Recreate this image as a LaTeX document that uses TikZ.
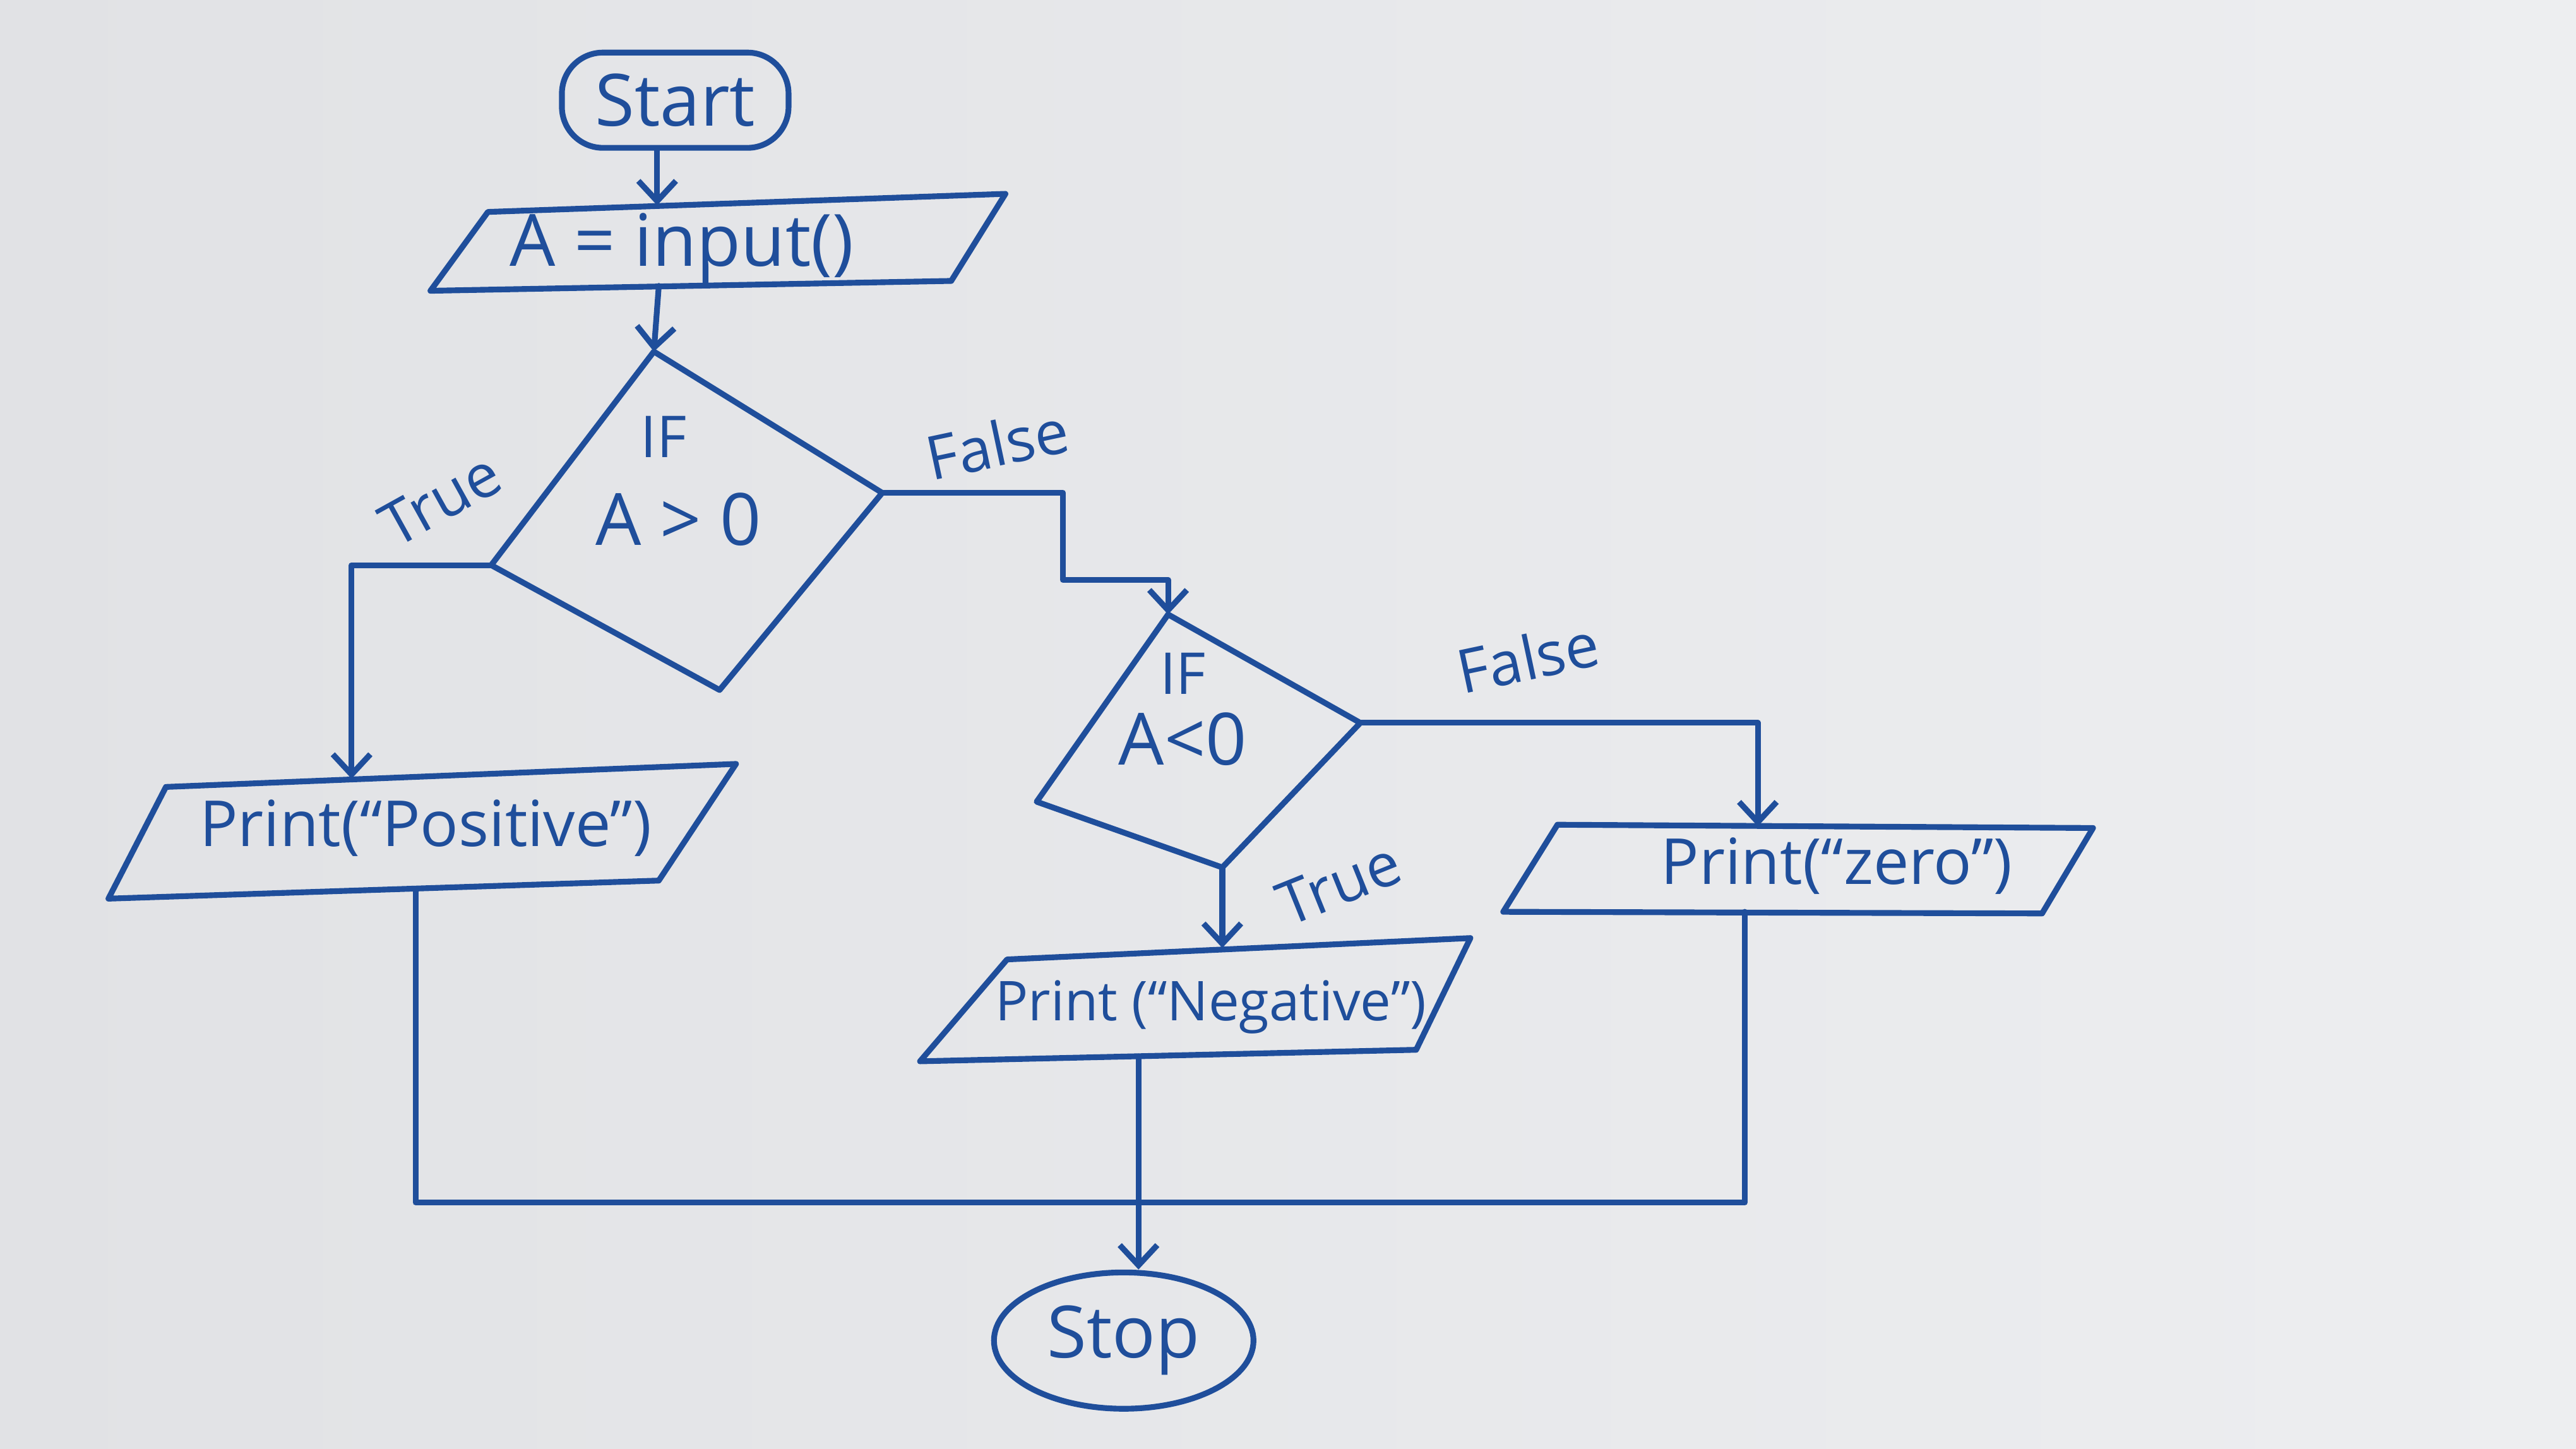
\documentclass[tikz,border=0pt]{standalone}
\usepackage{fontspec}
\setmainfont{Open Sans}
\usetikzlibrary{arrows.meta,shapes.geometric}
\definecolor{ink}{HTML}{1F4E9B}
\definecolor{paperL}{HTML}{E1E2E5}
\definecolor{paperR}{HTML}{EDEEF0}
\begin{document}
\begin{tikzpicture}[x=0.02cm,y=-0.02cm,
  pen/.style={draw=ink,line width=2pt,line join=round,line cap=round},
  flow/.style={pen,-{Straight Barb[length=7pt,width=13pt]}},
  txt/.style={text=ink,inner sep=0pt},
  big/.style={txt,font=\fontsize{25}{28}\selectfont},
  mid/.style={txt,font=\fontsize{22}{26}\selectfont},
  lbl/.style={txt,font=\fontsize{21}{24}\selectfont}]

% paper
\shade[left color=paperL,right color=paperR] (0,0) rectangle (1568,882);
\useasboundingbox (0,0) rectangle (1568,882);

% terminals
\node[pen,rounded corners=0.5cm,minimum width=2.76cm,minimum height=1.16cm,big] (start) at (411,61) {Start};
\node[pen,ellipse,minimum width=3.16cm,minimum height=1.66cm,big] (stop) at (684,816) {Stop};

% input box
\coordinate (iTL) at (297,129); \coordinate (iTR) at (612,118);
\coordinate (iBR) at (579,171); \coordinate (iBL) at (262,177);
\draw[pen] (iTL) -- (iTR) -- (iBR) -- (iBL) -- cycle;
\node[big] (input) at (415,151) {A = input()};
\coordinate (inA) at (400,125);
\coordinate (inB) at (401,174);

% first decision
\coordinate (d1t) at (398,214); \coordinate (d1r) at (537,300);
\coordinate (d1b) at (438,420); \coordinate (d1l) at (299,344);
\draw[pen] (d1t) -- (d1r) -- (d1b) -- (d1l) -- cycle;
\node[txt,font=\fontsize{20}{22}\selectfont] (if1) at (404,266) {IF};
\node[big] (cond1) at (413,316) {A > 0};

% second decision
\coordinate (d2t) at (711,374); \coordinate (d2r) at (828,440);
\coordinate (d2b) at (744,528); \coordinate (d2l) at (631,488);
\draw[pen] (d2t) -- (d2r) -- (d2b) -- (d2l) -- cycle;
\node[txt,font=\fontsize{20}{22}\selectfont] (if2) at (720,410) {IF};
\node[big] (cond2) at (720,450) {A<0};

% output boxes
\coordinate (pTL) at (101,479); \coordinate (pTR) at (448,465);
\coordinate (pBR) at (401,536); \coordinate (pBL) at (66,547);
\draw[pen] (pTL) -- (pTR) -- (pBR) -- (pBL) -- cycle;
\node[mid] (pos) at (259,504) {Print(“Positive”)};
\coordinate (pT) at (214,474);
\coordinate (pB) at (253,541);

\coordinate (nTL) at (613,584); \coordinate (nTR) at (895,571);
\coordinate (nBR) at (862,639); \coordinate (nBL) at (560,646);
\draw[pen] (nTL) -- (nTR) -- (nBR) -- (nBL) -- cycle;
\node[txt,font=\fontsize{19}{22}\selectfont] (neg) at (737,613) {Print (“Negative”)};
\coordinate (nT) at (744,577);
\coordinate (nB) at (693,643);

\coordinate (zTL) at (948,502); \coordinate (zTR) at (1274,504);
\coordinate (zBR) at (1243,556); \coordinate (zBL) at (915,555);
\draw[pen] (zTL) -- (zTR) -- (zBR) -- (zBL) -- cycle;
\node[mid] (zero) at (1118,527) {Print(“zero”)};
\coordinate (zT) at (1070,503);
\coordinate (zB) at (1062,555);

% connectors
\coordinate (c1) at (647,353);
\coordinate (jn) at (693,732);
\draw[flow] (start.south -| inA) -- (inA);
\draw[flow] (inB) -- (d1t);
\draw[flow] (d1l) -| (pT);
\draw[flow] (d1r) -| (c1) -| (d2t);
\draw[flow] (d2r) -| (zT);
\draw[flow] (d2b) -- (nT);
\draw[pen] (pB) |- (jn) -| (zB);
\draw[flow] (nB) -- (nB |- stop.north);

% branch labels
\node[lbl,rotate=29] (t1) at (268,304) {True};
\node[lbl,rotate=12] (f1) at (607,270) {False};
\node[lbl,rotate=12] (f2) at (930,400) {False};
\node[lbl,rotate=22] (t2) at (815,538) {True};
\end{tikzpicture}
\end{document}
